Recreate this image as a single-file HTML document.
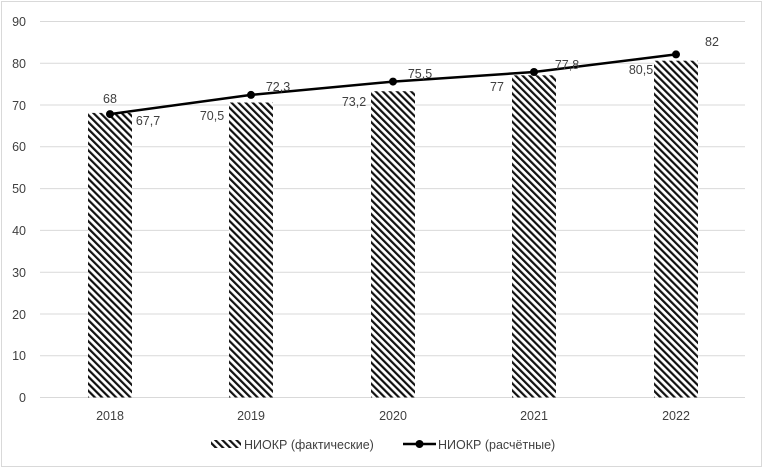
<!DOCTYPE html>
<html><head><meta charset="utf-8"><style>
body{margin:0;background:#fff}
svg text{font-family:"Liberation Sans","DejaVu Sans",sans-serif;font-size:12.5px;fill:#404040}
</style></head><body>
<svg width="767" height="470" xmlns="http://www.w3.org/2000/svg">
<defs>
<pattern id="h" patternUnits="userSpaceOnUse" width="5" height="5" patternTransform="rotate(-45)">
<rect width="5" height="5" fill="#fff"/>
<rect x="0" y="0" width="2.2" height="5" fill="#111"/>
</pattern>
</defs>
<rect x="1.5" y="1.5" width="760" height="465" fill="#fff" stroke="#d9d9d9"/>
<g stroke="#d9d9d9" stroke-width="1">
<line x1="40" x2="745" y1="21.5" y2="21.5"/>
<line x1="40" x2="745" y1="63.3" y2="63.3"/>
<line x1="40" x2="745" y1="105" y2="105"/>
<line x1="40" x2="745" y1="146.8" y2="146.8"/>
<line x1="40" x2="745" y1="188.6" y2="188.6"/>
<line x1="40" x2="745" y1="230.4" y2="230.4"/>
<line x1="40" x2="745" y1="272.2" y2="272.2"/>
<line x1="40" x2="745" y1="314" y2="314"/>
<line x1="40" x2="745" y1="355.7" y2="355.7"/>
<line x1="40" x2="745" y1="397.5" y2="397.5"/>
</g>
<g text-anchor="end">
<text x="26" y="26">90</text><text x="26" y="68">80</text><text x="26" y="110">70</text>
<text x="26" y="151">60</text><text x="26" y="193">50</text><text x="26" y="235">40</text>
<text x="26" y="277">30</text><text x="26" y="319">20</text><text x="26" y="360">10</text>
<text x="26" y="402">0</text>
</g>
<g fill="url(#h)">
<rect x="88" y="112.9" width="44" height="284.6"/>
<rect x="229" y="102.5" width="44" height="295"/>
<rect x="371" y="91.2" width="44" height="306.3"/>
<rect x="512" y="75.3" width="44" height="322.2"/>
<rect x="654" y="60.7" width="44" height="336.8"/>
</g>
<polyline points="110,114.1 251,94.9 393,81.6 534,72 676,54.4" fill="none" stroke="#000" stroke-width="2.5"/>
<g fill="#000">
<circle cx="110" cy="114.1" r="4"/><circle cx="251" cy="94.9" r="4"/><circle cx="393" cy="81.6" r="4"/>
<circle cx="534" cy="72" r="4"/><circle cx="676" cy="54.4" r="4"/>
</g>
<g text-anchor="middle">
<text x="110" y="103">68</text><text x="148" y="125">67,7</text>
<text x="212" y="120">70,5</text><text x="278" y="91">72,3</text>
<text x="354" y="106">73,2</text><text x="420" y="78">75,5</text>
<text x="497" y="91">77</text><text x="567" y="69">77,8</text>
<text x="641" y="74">80,5</text><text x="712" y="46">82</text>
<text x="110" y="420">2018</text><text x="251" y="420">2019</text><text x="393" y="420">2020</text>
<text x="534" y="420">2021</text><text x="676" y="420">2022</text>
</g>
<rect x="211" y="440" width="30" height="8" fill="url(#h)"/>
<text x="244" y="449">НИОКР (фактические)</text>
<line x1="403" x2="436" y1="444" y2="444" stroke="#000" stroke-width="2.5"/>
<circle cx="419.5" cy="444" r="4" fill="#000"/>
<text x="438" y="449">НИОКР (расчётные)</text>
</svg>
</body></html>
